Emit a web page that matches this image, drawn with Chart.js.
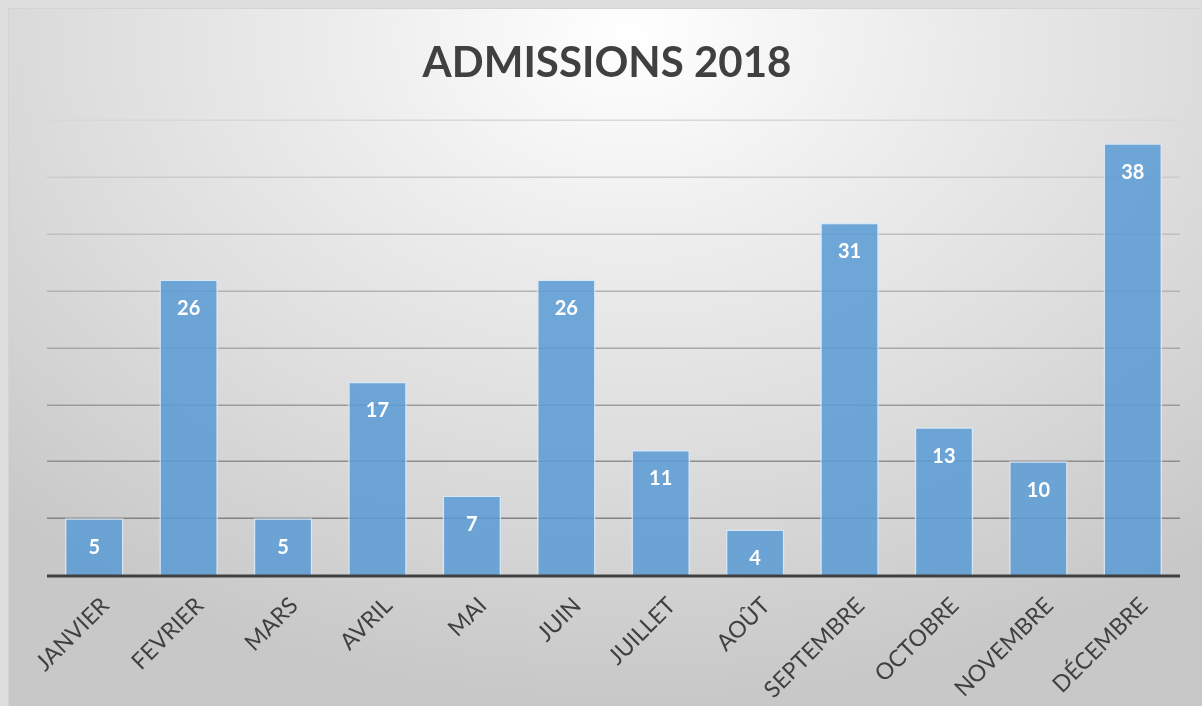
<!DOCTYPE html>
<html>
<head>
<meta charset="utf-8">
<script src="https://cdn.jsdelivr.net/npm/chart.js@4.4.1/dist/chart.umd.min.js"></script>
<style>
  html, body { margin: 0; padding: 0; background: #dedede; width: 1202px; height: 706px; overflow: hidden; font-family: Lato; }
  #box {
    position: absolute; left: 8px; top: 8px; width: 1194px; height: 698px;
    background: radial-gradient(ellipse 75% 95% at 52% 4%, #ffffff 0%, #eeeeee 30%, #dcdcdc 65%, #c8c8c8 100%);
    border-left: 1px solid #d4d4d4; border-top: 1px solid #d4d4d4;
    box-sizing: border-box;
  }
  canvas { display: block; }
</style>
</head>
<body>
<div id="box"><canvas id="c" width="1193" height="697"></canvas></div>
<script>
const categories = ["JANVIER", "FEVRIER", "MARS", "AVRIL", "MAI", "JUIN", "JUILLET", "AOÛT", "SEPTEMBRE", "OCTOBRE", "NOVEMBRE", "DÉCEMBRE"];
const admissions = [5, 26, 5, 17, 7, 26, 11, 4, 31, 13, 10, 38];
const chartTitle = "ADMISSIONS 2018";
const yMin = 0, yMax = 40, yStep = 5;

function gridColor(v) {
  const t = (v - yStep) / (yMax - yStep);
  const g = Math.round(130 + t * 86);
  return `rgb(${g},${g},${g})`;
}

// extent of the category band, taken from the bars the library placed
function xExtent(chart) {
  const bars = chart.getDatasetMeta(0).data;
  const n = bars.length;
  const step = (bars[n - 1].x - bars[0].x) / (n - 1);
  return [bars[0].x - step / 2, bars[n - 1].x + step / 2];
}

// horizontal gridlines from the y scale's own ticks, plus the dark baseline
const gridPlugin = {
  id: 'gridPlugin',
  beforeDatasetsDraw(chart) {
    const ctx = chart.ctx, ys = chart.scales.y;
    const [x0, x1] = xExtent(chart);
    ctx.save();
    ctx.lineWidth = 1.5;
    ys.ticks.forEach(t => {
      if (t.value === 0) return;
      const py = Math.round(ys.getPixelForValue(t.value)) + 0.25;
      ctx.strokeStyle = gridColor(t.value);
      ctx.beginPath();
      ctx.moveTo(x0, py);
      ctx.lineTo(x1, py);
      ctx.stroke();
    });
    ctx.restore();
  },
  afterDatasetsDraw(chart) {
    const ctx = chart.ctx, ys = chart.scales.y;
    const [x0, x1] = xExtent(chart);
    const py = ys.getPixelForValue(0) + 1;
    ctx.save();
    ctx.strokeStyle = '#404040';
    ctx.lineWidth = 3;
    ctx.beginPath();
    ctx.moveTo(x0, py);
    ctx.lineTo(x1, py);
    ctx.stroke();
    ctx.restore();
  }
};

const barLabels = {
  id: 'barLabels',
  afterDatasetsDraw(chart) {
    const ctx = chart.ctx;
    const meta = chart.getDatasetMeta(0);
    ctx.save();
    ctx.fillStyle = '#ffffff';
    ctx.font = 'bold 20px Lato';
    ctx.textAlign = 'center';
    ctx.textBaseline = 'middle';
    meta.data.forEach((bar, i) => {
      ctx.fillText(String(admissions[i]), bar.x, bar.y + 29);
    });
    ctx.restore();
  }
};

function draw() {
  new Chart(document.getElementById('c'), {
    type: 'bar',
    data: {
      labels: categories,
      datasets: [{
        data: admissions,
        backgroundColor: 'rgba(91,155,213,0.86)',
        borderColor: 'rgba(215,232,248,0.9)',
        borderWidth: 1.5,
        barPercentage: 0.62,
        categoryPercentage: 1.0
      }]
    },
    options: {
      responsive: false,
      animation: false,
      layout: { padding: { left: 25, right: 22, top: 0, bottom: 0 } },
      plugins: {
        legend: { display: false },
        tooltip: { enabled: false },
        title: {
          display: true,
          text: chartTitle,
          color: '#404040',
          font: { family: 'Lato', size: 42, weight: 'bold', lineHeight: 1.2 },
          padding: { top: 29, bottom: 32 }
        }
      },
      scales: {
        x: {
          grid: { display: false },
          border: { display: false },
          ticks: {
            color: '#404040',
            font: { family: 'Lato', size: 23 },
            minRotation: 45, maxRotation: 45,
            padding: 9,
            labelOffset: 11,
            autoSkip: false
          },
          afterFit(scale) {
            scale.height = 131;
            scale.paddingLeft = 0;
            scale.paddingRight = 0;
          }
        },
        y: {
          min: yMin, max: yMax,
          ticks: { display: false, stepSize: yStep },
          border: { display: false },
          grid: { display: false },
          afterFit(scale) { scale.width = 13; }
        }
      }
    },
    plugins: [gridPlugin, barLabels]
  });
}

Promise.all([
  document.fonts.load('bold 42px Lato'),
  document.fonts.load('23px Lato'),
  document.fonts.load('bold 20px Lato')
]).then(draw, draw);
</script>
</body>
</html>
